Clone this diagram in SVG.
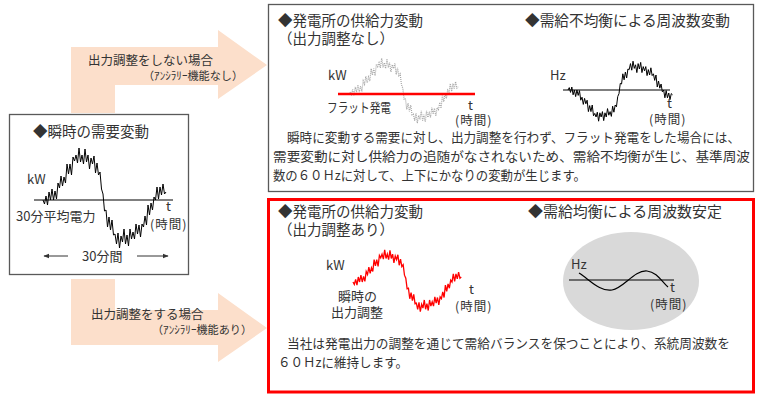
<svg xmlns="http://www.w3.org/2000/svg" xmlns:xlink="http://www.w3.org/1999/xlink" width="764" height="400" viewBox="0 0 764 400">
<style>
text{font-family:"Noto Sans CJK JP","Liberation Sans",sans-serif;fill:#333}
.t15{font-size:14.5px}
.t13{font-size:13px}
.t12{font-size:12.5px}
.t11{font-size:11px}
.tm{font-size:12.5px;letter-spacing:1px}
.box{fill:#fff;stroke:#595959;stroke-width:1.3}
.axis{stroke:#000;stroke-width:1.2;fill:none}
.peach{fill:#FCDFCB}
.blue{fill:#0070C0;stroke:#1F4E79;stroke-width:1}
.wave{fill:none;vector-effect:non-scaling-stroke;stroke-linejoin:miter}
</style>
<defs>
<path id="noise" class="wave" d="M0,0 L1.5,4 3,-4 4.5,5 6,-8 7.5,0 9,-11 10.5,0 12,-9 13.5,-1 15,-17 16.5,-12 18,-24 19.5,-14 21,-23 22.5,-17 24,-36 25.5,-26 27,-36 28.5,-25 30,-43 31.5,-39 33,-45 34.5,-37 36,-52 37.5,-38 39,-45 40.5,-36 42,-51 43.5,-38 45,-45 46.5,-31 48,-42 49.5,-36 51,-44 52.5,-27 54,-37 55.5,-25 57,-28 58.5,-11 60,-6 61.5,11 63,10 64.5,27 66,17 67.5,30 69,20 70.5,35 72,34 73.5,44 75,33 76.5,48 78,36 79.5,42 81,29 82.5,44 84,35 85.5,46 87,29 88.5,39 90,32 91.5,39 93,24 94.5,34 96,25 97.5,37 99,24 100.5,27 102,16 103.5,25 105,5 106.5,15 108,3 109.5,10 111,-3 112.5,0 114,-13 115.5,-1 117,-13 118.5,-5 120,-16 121.5,-6 123,-8"/>
<marker id="ah" viewBox="0 0 10 10" refX="9" refY="5" markerWidth="6" markerHeight="6" orient="auto-start-reverse" markerUnits="userSpaceOnUse"><path d="M0,1 L10,5 L0,9 Z" fill="#333"/></marker>
</defs>

<g id="connectors">
<polygon class="peach" points="71,113 71,47 218,47 218,30 267,65 218,99 218,85 115,85 115,113"/>
<polygon class="peach" points="71,279 71,345 218,345 218,362 267,328 218,293 218,310 115,310 115,279"/>
<text class="t12" x="88" y="65">出力調整をしない場合</text>
<text class="t11" x="143" y="80" textLength="100" lengthAdjust="spacingAndGlyphs">（ｱﾝｼﾗﾘｰ機能なし）</text>
<text class="t12" x="91" y="319">出力調整をする場合</text>
<text class="t11" x="152" y="334" textLength="100" lengthAdjust="spacingAndGlyphs">（ｱﾝｼﾗﾘｰ機能あり）</text>
<polygon class="blue" points="494,77 508,77 508,68 521,87 508,108 508,98 494,98"/>
<polygon class="blue" points="494,268 508,268 508,259 521,278 508,299 508,289 494,289"/>
</g>

<g id="demand">
<rect class="box" x="9.5" y="114.5" width="179" height="160"/>
<text class="t15" x="33" y="137">◆瞬時の需要変動</text>
<text class="t13" x="27" y="184">kW</text>
<line class="axis" x1="34" y1="200" x2="173" y2="200"/>
<use xlink:href="#noise" href="#noise" transform="translate(43,200)" stroke="#000" stroke-width="1"/>
<text class="t13" x="16" y="221">30分平均電力</text>
<text class="t13" x="166" y="211">t</text>
<text class="tm" x="150" y="229">(時間)</text>
<line x1="68" y1="256" x2="44" y2="256" stroke="#333" stroke-width="1" marker-end="url(#ah)"/>
<line x1="137" y1="256" x2="168" y2="256" stroke="#333" stroke-width="1" marker-end="url(#ah)"/>
<text class="t13" x="82" y="261">30分間</text>
</g>

<g id="no-adjust">
<rect class="box" x="268.5" y="4.5" width="485" height="187"/>
<text class="t15" x="278" y="26">◆発電所の供給力変動</text>
<text class="t15" x="278" y="44">（出力調整なし）</text>
<text class="t13" x="328" y="80">kW</text>
<use xlink:href="#noise" href="#noise" transform="translate(350,92) scale(0.88,0.65)" stroke="#A6A6A6" stroke-width="1.2" stroke-dasharray="1 1"/>
<line x1="338" y1="94" x2="475" y2="94" stroke="#FF0000" stroke-width="2.5"/>
<text class="t13" x="327" y="112" textLength="64" lengthAdjust="spacingAndGlyphs">フラット発電</text>
<text class="t13" x="468" y="110">t</text>
<text class="tm" x="455" y="125">(時間)</text>
<text class="t15" x="525" y="26" textLength="205" lengthAdjust="spacingAndGlyphs">◆需給不均衡による周波数変動</text>
<text class="t13" x="550" y="80">Hz</text>
<line class="axis" x1="563" y1="90" x2="670" y2="90"/>
<use xlink:href="#noise" href="#noise" transform="translate(568,90) scale(0.85,-0.6)" stroke="#000" stroke-width="1"/>
<text class="t13" x="667" y="108">t</text>
<text class="tm" x="649" y="124">(時間)</text>
<text class="t13" x="287" y="142" textLength="453" lengthAdjust="spacingAndGlyphs">瞬時に変動する需要に対し、出力調整を行わず、フラット発電をした場合には、</text>
<text class="t13" x="273" y="161" textLength="477" lengthAdjust="spacingAndGlyphs">需要変動に対し供給力の追随がなされないため、需給不均衡が生じ、基準周波</text>
<text class="t13" x="273" y="180" textLength="313" lengthAdjust="spacingAndGlyphs">数の６０Ｈzに対して、上下にかなりの変動が生じます。</text>
</g>

<g id="with-adjust">
<rect x="268.5" y="199.5" width="485" height="192.5" fill="#fff" stroke="#FF0000" stroke-width="3"/>
<text class="t15" x="278" y="217">◆発電所の供給力変動</text>
<text class="t15" x="278" y="235">（出力調整あり）</text>
<text class="t13" x="326" y="270">kW</text>
<use xlink:href="#noise" href="#noise" transform="translate(353,282) scale(0.88,0.62)" stroke="#FF0000" stroke-width="1.3"/>
<text class="t13" x="338" y="301">瞬時の</text>
<text class="t13" x="331" y="317">出力調整</text>
<text class="t13" x="469" y="294">t</text>
<text class="tm" x="455" y="311">(時間)</text>
<text class="t15" x="528" y="217" textLength="194" lengthAdjust="spacingAndGlyphs">◆需給均衡による周波数安定</text>
<ellipse cx="631" cy="281" rx="68" ry="49" fill="#D9D9D9"/>
<text class="t13" x="571" y="269">Hz</text>
<line class="axis" x1="569" y1="280" x2="674" y2="280"/>
<path d="M579,273 C590,280 600,292 612,290 C624,288 634,270 647,271 C657,272 662,282 668,287" fill="none" stroke="#000" stroke-width="1.2"/>
<text class="t13" x="670" y="292">t</text>
<text class="tm" x="650" y="309">(時間)</text>
<text class="t13" x="287" y="348" textLength="443" lengthAdjust="spacingAndGlyphs">当社は発電出力の調整を通じて需給バランスを保つことにより、系統周波数を</text>
<text class="t13" x="278" y="367" textLength="130" lengthAdjust="spacingAndGlyphs">６０Ｈzに維持します。</text>
</g>
</svg>
